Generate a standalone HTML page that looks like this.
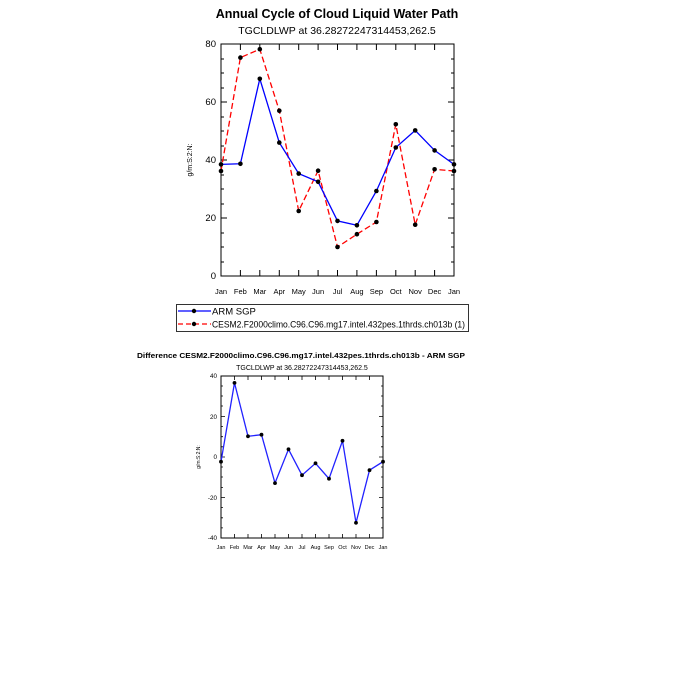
<!DOCTYPE html>
<html><head><meta charset="utf-8"><style>body{margin:0;background:#fff}svg{display:block}</style></head><body>
<svg width="675" height="675" xmlns="http://www.w3.org/2000/svg" font-family="Liberation Sans, sans-serif">
<rect width="675" height="675" fill="#fff"/>
<text x="337" y="18" font-size="12.5" font-weight="bold" text-anchor="middle">Annual Cycle of Cloud Liquid Water Path</text>
<text x="337" y="34" font-size="10.5" text-anchor="middle">TGCLDLWP at 36.28272247314453,262.5</text>
<rect x="221" y="44" width="233" height="232" fill="none" stroke="#000" stroke-width="1"/>
<g stroke="#000" stroke-width="1">
<path d="M221 44h6M221 102h6M221 160h6M221 218h6M454 44h-6M454 102h-6M454 160h-6M454 218h-6"/>
<path d="M221 59h3M221 73h3M221 88h3M221 117h3M221 131h3M221 146h3M221 175h3M221 189h3M221 204h3M221 233h3M221 247h3M221 262h3M454 59h-3M454 73h-3M454 88h-3M454 117h-3M454 131h-3M454 146h-3M454 175h-3M454 189h-3M454 204h-3M454 233h-3M454 247h-3M454 262h-3"/>
<path d="M240.4 276v-6M259.8 276v-6M279.3 276v-6M298.7 276v-6M318.1 276v-6M337.5 276v-6M356.9 276v-6M376.4 276v-6M395.8 276v-6M415.2 276v-6M434.6 276v-6M240.4 44v6M259.8 44v6M279.3 44v6M298.7 44v6M318.1 44v6M337.5 44v6M356.9 44v6M376.4 44v6M395.8 44v6M415.2 44v6M434.6 44v6"/>
</g>
<g font-size="9.5" text-anchor="end">
<text x="216" y="47">80</text><text x="216" y="105">60</text><text x="216" y="163">40</text><text x="216" y="221">20</text><text x="216" y="279">0</text>
</g>
<text transform="translate(192 160) rotate(-90)" font-size="7" text-anchor="middle">g/m:S:2:N:</text>
<g font-size="7.5" text-anchor="middle">
<text x="221" y="294">Jan</text><text x="240.4" y="294">Feb</text><text x="259.8" y="294">Mar</text><text x="279.3" y="294">Apr</text><text x="298.7" y="294">May</text><text x="318.1" y="294">Jun</text><text x="337.5" y="294">Jul</text><text x="356.9" y="294">Aug</text><text x="376.4" y="294">Sep</text><text x="395.8" y="294">Oct</text><text x="415.2" y="294">Nov</text><text x="434.6" y="294">Dec</text><text x="454" y="294">Jan</text>
</g>
<polyline fill="none" stroke="#f00" stroke-width="1.3" stroke-dasharray="6,3" points="221,171 240.4,57.6 259.8,49.2 279.3,110.7 298.7,211 318.1,170.7 337.5,247 356.9,234.2 376.4,222 395.8,124.3 415.2,224.7 434.6,169.3 454,171"/>
<polyline fill="none" stroke="#00f" stroke-width="1.3" points="221,164.4 240.4,163.8 259.8,78.8 279.3,142.6 298.7,173.6 318.1,181.8 337.5,220.9 356.9,225.3 376.4,191 395.8,147.5 415.2,130.4 434.6,150.4 454,164.4"/>
<g fill="#000">
<circle cx="221" cy="171" r="2.3"/><circle cx="240.4" cy="57.6" r="2.3"/><circle cx="259.8" cy="49.2" r="2.3"/><circle cx="279.3" cy="110.7" r="2.3"/><circle cx="298.7" cy="211" r="2.3"/><circle cx="318.1" cy="170.7" r="2.3"/><circle cx="337.5" cy="247" r="2.3"/><circle cx="356.9" cy="234.2" r="2.3"/><circle cx="376.4" cy="222" r="2.3"/><circle cx="395.8" cy="124.3" r="2.3"/><circle cx="415.2" cy="224.7" r="2.3"/><circle cx="434.6" cy="169.3" r="2.3"/><circle cx="454" cy="171" r="2.3"/>
<circle cx="221" cy="164.4" r="2.3"/><circle cx="240.4" cy="163.8" r="2.3"/><circle cx="259.8" cy="78.8" r="2.3"/><circle cx="279.3" cy="142.6" r="2.3"/><circle cx="298.7" cy="173.6" r="2.3"/><circle cx="318.1" cy="181.8" r="2.3"/><circle cx="337.5" cy="220.9" r="2.3"/><circle cx="356.9" cy="225.3" r="2.3"/><circle cx="376.4" cy="191" r="2.3"/><circle cx="395.8" cy="147.5" r="2.3"/><circle cx="415.2" cy="130.4" r="2.3"/><circle cx="434.6" cy="150.4" r="2.3"/><circle cx="454" cy="164.4" r="2.3"/>
</g>
<rect x="176.5" y="304.5" width="292" height="27" fill="none" stroke="#000" stroke-width="0.8"/>
<line x1="178" y1="311" x2="211" y2="311" stroke="#00f" stroke-width="1.3"/>
<circle cx="194" cy="311" r="2.2"/>
<text x="212" y="314.5" font-size="9.5">ARM SGP</text>
<line x1="178" y1="324" x2="211" y2="324" stroke="#f00" stroke-width="1.3" stroke-dasharray="5,3"/>
<circle cx="194" cy="324" r="2.2"/>
<text x="212" y="327.5" font-size="9.5" textLength="253" lengthAdjust="spacingAndGlyphs">CESM2.F2000climo.C96.C96.mg17.intel.432pes.1thrds.ch013b (1)</text>
<text x="137" y="358" font-size="7.5" font-weight="bold" textLength="328" lengthAdjust="spacingAndGlyphs">Difference CESM2.F2000climo.C96.C96.mg17.intel.432pes.1thrds.ch013b - ARM SGP</text>
<text x="302" y="370" font-size="7" text-anchor="middle">TGCLDLWP at 36.28272247314453,262.5</text>
<rect x="221" y="376" width="162" height="162" fill="none" stroke="#000" stroke-width="1"/>
<g stroke="#000" stroke-width="0.8">
<path d="M221 416.5h4M221 457h4M221 497.5h4M383 416.5h-4M383 457h-4M383 497.5h-4"/>
<path d="M221 386h2M221 396h2M221 406h2M221 426.6h2M221 436.7h2M221 446.8h2M221 467h2M221 477h2M221 487.4h2M221 507.6h2M221 517.8h2M221 527.9h2M383 386h-2M383 396h-2M383 406h-2M383 426.6h-2M383 436.7h-2M383 446.8h-2M383 467h-2M383 477h-2M383 487.4h-2M383 507.6h-2M383 517.8h-2M383 527.9h-2"/>
<path d="M234.5 538v-4M248 538v-4M261.5 538v-4M275 538v-4M288.5 538v-4M302 538v-4M315.5 538v-4M329 538v-4M342.5 538v-4M356 538v-4M369.5 538v-4M234.5 376v4M248 376v4M261.5 376v4M275 376v4M288.5 376v4M302 376v4M315.5 376v4M329 376v4M342.5 376v4M356 376v4M369.5 376v4"/>
</g>
<g font-size="6.3" text-anchor="end">
<text x="217" y="378">40</text><text x="217" y="419">20</text><text x="217" y="459">0</text><text x="217" y="500">-20</text><text x="217" y="540">-40</text>
</g>
<text transform="translate(200 457) rotate(-90)" font-size="5" text-anchor="middle">g/m:S:2:N:</text>
<g font-size="5.5" text-anchor="middle">
<text x="221" y="549">Jan</text><text x="234.5" y="549">Feb</text><text x="248" y="549">Mar</text><text x="261.5" y="549">Apr</text><text x="275" y="549">May</text><text x="288.5" y="549">Jun</text><text x="302" y="549">Jul</text><text x="315.5" y="549">Aug</text><text x="329" y="549">Sep</text><text x="342.5" y="549">Oct</text><text x="356" y="549">Nov</text><text x="369.5" y="549">Dec</text><text x="383" y="549">Jan</text>
</g>
<polyline fill="none" stroke="#22f" stroke-width="1.3" points="221,461.7 234.5,382.9 248,436.3 261.5,434.7 275,483.1 288.5,449.3 302,475.2 315.5,463.3 329,478.7 342.5,440.8 356,522.8 369.5,470.2 383,461.7"/>
<g fill="#000">
<circle cx="221" cy="461.7" r="1.9"/><circle cx="234.5" cy="382.9" r="1.9"/><circle cx="248" cy="436.3" r="1.9"/><circle cx="261.5" cy="434.7" r="1.9"/><circle cx="275" cy="483.1" r="1.9"/><circle cx="288.5" cy="449.3" r="1.9"/><circle cx="302" cy="475.2" r="1.9"/><circle cx="315.5" cy="463.3" r="1.9"/><circle cx="329" cy="478.7" r="1.9"/><circle cx="342.5" cy="440.8" r="1.9"/><circle cx="356" cy="522.8" r="1.9"/><circle cx="369.5" cy="470.2" r="1.9"/><circle cx="383" cy="461.7" r="1.9"/>
</g>
</svg>
</body></html>
